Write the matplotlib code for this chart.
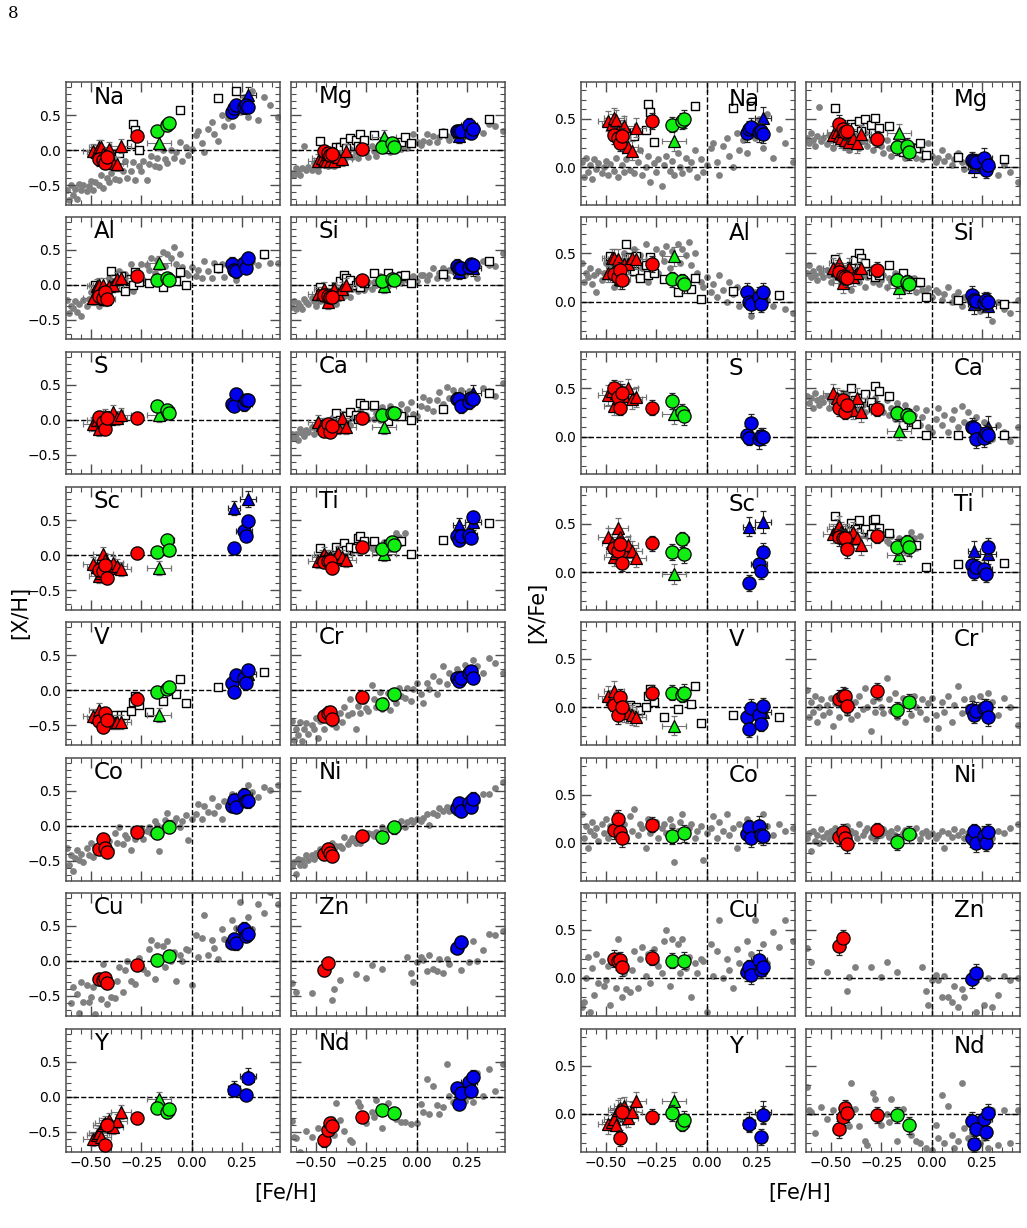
import numpy as np
import matplotlib
matplotlib.use("Agg")
import matplotlib.pyplot as plt
from matplotlib.ticker import MultipleLocator, AutoMinorLocator

nan = np.nan

ELEMENTS = ["Na", "Mg", "Al", "Si", "S", "Ca", "Sc", "Ti",
            "V", "Cr", "Co", "Ni", "Cu", "Zn", "Y", "Nd"]

# [Fe/H] of the field comparison stars (grey dots)
FIELD_FEH = [
    -0.62, -0.61, -0.60, -0.59, -0.58, -0.57, -0.56, -0.55, -0.54, -0.52,
    -0.51, -0.50, -0.49, -0.48, -0.46, -0.45, -0.44, -0.42, -0.41, -0.40,
    -0.38, -0.37, -0.36, -0.34, -0.33, -0.32, -0.30, -0.29, -0.28, -0.26,
    -0.25, -0.24, -0.22, -0.21, -0.20, -0.18, -0.17, -0.16, -0.14, -0.13,
    -0.12, -0.10, -0.09, -0.08, -0.06, -0.05, -0.03, -0.02, 0.00, 0.02,
    0.03, 0.05, 0.06, 0.08, 0.10, 0.11, 0.13, 0.15, 0.16, 0.18,
    0.20, 0.22, 0.24, 0.26, 0.28, 0.30, 0.33, 0.36, 0.39, 0.43]

# [X/Fe] of the field stars, one list per element
field_na = [
    0.05, -0.10, 0.10, -0.05, 0.02, -0.12, 0.08, -0.02, 0.04, -0.06,
    0.00, 0.06, -0.08, 0.03, -0.04, 0.10, -0.10, 0.02, -0.05, 0.08,
    -0.03, 0.15, -0.06, 0.05, 0.18, -0.08, 0.00, 0.12, -0.15, 0.04,
    -0.05, 0.08, -0.20, 0.02, 0.12, -0.04, 0.06, -0.08, 0.15, 0.00,
    -0.06, 0.10, -0.02, 0.05, 0.18, -0.10, 0.08, -0.05, 0.02, 0.20,
    0.25, 0.05, -0.08, 0.22, 0.30, 0.12, 0.00, 0.35, 0.18, 0.28,
    0.15, 0.45, 0.30, 0.50, 0.20, 0.55, 0.10, 0.40, 0.25, 0.05]
field_mg = [
    0.30, 0.25, 0.35, 0.28, 0.22, 0.32, 0.62, 0.27, 0.30, 0.24,
    0.33, 0.28, 0.20, 0.35, 0.26, 0.30, 0.22, 0.34, 0.18, 0.28,
    0.25, 0.30, 0.20, 0.27, 0.35, 0.22, 0.28, 0.18, 0.25, 0.30,
    0.22, 0.15, 0.28, 0.20, 0.12, 0.24, 0.30, 0.18, 0.25, 0.10,
    0.20, 0.15, 0.22, 0.10, 0.18, 0.08, 0.14, 0.25, 0.12, 0.05,
    0.10, 0.18, 0.06, 0.12, 0.02, 0.08, 0.15, 0.05, -0.02, 0.04,
    0.00, 0.06, -0.03, 0.03, -0.05, 0.00, -0.08, 0.02, -0.05, -0.15]
field_al = [
    0.40, 0.20, 0.30, 0.25, 0.35, 0.18, 0.28, 0.10, 0.32, 0.22,
    0.30, 0.40, 0.25, 0.35, 0.15, 0.45, 0.28, 0.38, 0.50, 0.20,
    0.42, 0.30, 0.55, 0.25, 0.48, 0.35, 0.60, 0.20, 0.45, 0.38,
    0.55, 0.30, 0.50, 0.42, 0.58, 0.35, 0.52, 0.45, 0.60, 0.40,
    0.55, 0.48, 0.62, 0.38, 0.50, 0.30, 0.20, 0.15, 0.25, 0.10,
    0.18, 0.05, 0.28, 0.12, 0.00, 0.20, 0.08, 0.15, -0.05, 0.10,
    0.05, -0.15, 0.10, -0.02, 0.08, 0.02, -0.05, 0.05, -0.08, -0.12]
field_si = [
    0.30, 0.38, 0.25, 0.32, 0.28, 0.22, 0.35, 0.30, 0.26, 0.33,
    0.28, 0.20, 0.35, 0.25, 0.30, 0.18, 0.27, 0.22, 0.32, 0.12,
    0.25, 0.30, 0.20, 0.28, 0.15, 0.25, 0.32, 0.20, 0.26, 0.18,
    0.22, 0.28, 0.15, 0.24, 0.20, 0.30, 0.18, 0.25, 0.12, 0.22,
    0.20, 0.15, 0.24, 0.10, 0.18, 0.12, 0.08, 0.14, 0.05, 0.12,
    0.10, 0.02, 0.08, 0.15, 0.00, 0.06, 0.10, -0.05, 0.05, 0.02,
    -0.02, 0.05, -0.10, 0.02, -0.05, -0.20, 0.00, -0.08, -0.12, 0.02]
field_ca = [
    0.42, 0.35, 0.40, 0.30, 0.45, 0.38, 0.33, 0.40, 0.36, 0.42,
    0.30, 0.38, 0.42, 0.35, 0.28, 0.40, 0.32, 0.45, 0.36, 0.30,
    0.38, 0.28, 0.42, 0.33, 0.25, 0.45, 0.30, 0.36, 0.40, 0.28,
    0.32, 0.25, 0.38, 0.22, 0.30, 0.18, 0.35, 0.28, 0.20, 0.33,
    0.25, 0.15, 0.22, 0.30, 0.12, 0.20, 0.28, 0.10, 0.05, 0.18,
    0.30, 0.12, 0.22, 0.05, 0.18, 0.28, 0.10, 0.32, 0.15, 0.25,
    0.08, 0.20, 0.02, 0.15, 0.10, -0.02, 0.12, 0.05, -0.05, 0.10]
field_ti = [
    nan, nan, nan, nan, nan, nan, nan, nan, nan, nan,
    nan, nan, nan, nan, nan, nan, nan, nan, nan, nan,
    nan, 0.42, nan, 0.40, 0.45, 0.38, 0.42, 0.35, 0.40, 0.38,
    0.35, 0.40, 0.32, 0.30, 0.38, 0.28, 0.25, 0.35, 0.30, 0.22,
    0.30, 0.42, 0.35, 0.25, 0.38, nan, nan, nan, nan, nan,
    nan, nan, nan, nan, nan, nan, nan, nan, nan, nan,
    nan, nan, nan, nan, nan, nan, nan, nan, nan, nan]
field_cr = [
    0.18, -0.10, 0.05, -0.05, 0.12, -0.15, 0.00, 0.08, -0.08, 0.02,
    -0.05, 0.10, -0.20, 0.04, -0.10, 0.15, 0.00, -0.06, 0.08, -0.12,
    0.05, -0.08, 0.12, -0.02, 0.20, 0.00, -0.25, 0.06, -0.05, 0.10,
    0.00, -0.06, 0.30, 0.08, -0.04, 0.15, -0.10, 0.02, 0.10, -0.15,
    0.05, -0.08, 0.12, 0.00, -0.05, 0.08, -0.12, 0.04, 0.10, -0.08,
    -0.22, 0.05, -0.05, 0.12, -0.15, 0.02, 0.22, -0.06, 0.08, 0.00,
    0.10, -0.05, 0.12, -0.02, 0.15, 0.05, -0.08, 0.10, 0.00, -0.18]
field_co = [
    0.30, 0.05, 0.18, -0.05, 0.12, 0.22, 0.08, 0.15, 0.02, 0.20,
    0.10, 0.25, 0.05, 0.18, 0.12, 0.30, 0.08, 0.15, 0.20, 0.05,
    0.28, 0.12, 0.35, 0.08, 0.20, 0.15, -0.05, 0.25, 0.10, 0.18,
    0.22, 0.05, 0.15, 0.20, 0.10, 0.25, 0.18, -0.20, 0.12, 0.22,
    0.30, 0.08, 0.15, 0.20, 0.05, 0.12, 0.18, -0.18, 0.10, 0.15,
    0.28, 0.05, 0.22, 0.12, 0.30, 0.08, 0.15, -0.05, 0.20, 0.10,
    0.25, 0.12, 0.05, 0.22, 0.30, 0.18, 0.08, 0.20, 0.12, 0.15]
field_ni = [
    0.05, 0.10, -0.08, 0.12, 0.02, 0.08, 0.00, 0.14, 0.06, 0.10,
    0.04, 0.12, 0.08, 0.15, 0.06, 0.10, 0.02, 0.18, 0.08, 0.12,
    0.10, 0.05, 0.20, 0.08, 0.12, 0.15, 0.06, 0.10, 0.04, 0.12,
    0.08, 0.14, 0.10, 0.06, 0.12, 0.08, 0.15, 0.05, 0.10, 0.13,
    0.06, 0.12, 0.08, 0.15, 0.04, 0.10, 0.12, 0.07, 0.10, 0.05,
    0.08, 0.12, -0.05, 0.10, 0.06, 0.14, 0.08, 0.12, 0.05, 0.10,
    0.12, 0.06, 0.10, 0.14, 0.08, 0.05, 0.12, 0.10, 0.15, 0.20]
field_cu = [
    -0.30, -0.25, 0.00, 0.22, -0.35, 0.10, -0.18, 0.25, -0.05, 0.18,
    -0.08, -0.02, 0.12, -0.28, 0.15, -0.10, 0.40, -0.20, 0.05, -0.12,
    -0.15, 0.08, 0.28, -0.10, 0.20, 0.32, 0.02, 0.25, -0.05, 0.30,
    0.18, 0.12, 0.05, 0.38, 0.50, -0.08, 0.40, 0.15, 0.35, 0.05,
    0.40, 0.10, 0.22, -0.20, 0.15, 0.05, 0.20, 0.18, -0.35, 0.35,
    0.02, 0.28, 0.60, 0.00, 0.20, 0.08, -0.10, 0.30, 0.15, 0.05,
    0.38, 0.25, 0.60, 0.12, 0.35, 0.15, 0.48, 0.32, 0.60, 0.38]
field_zn = [
    0.31, nan, 0.16, nan, nan, nan, nan, nan, nan, 0.06,
    nan, nan, nan, nan, nan, nan, nan, -0.14, 0.01, nan,
    0.11, nan, nan, nan, nan, nan, 0.11, nan, nan, nan,
    0.01, nan, 0.16, nan, nan, nan, 0.06, nan, nan, nan,
    nan, nan, nan, nan, nan, 0.11, -0.14, -0.28, -0.02, 0.03,
    -0.02, -0.20, 0.02, -0.20, -0.25, -0.08, -0.30, -0.12, -0.20, -0.02,
    -0.05, -0.35, 0.02, -0.28, 0.00, -0.30, -0.18, 0.02, -0.02, 0.00]
field_nd = [
    0.28, 0.04, 0.02, nan, -0.20, nan, nan, 0.07, nan, -0.05,
    nan, nan, 0.04, nan, nan, nan, nan, 0.10, -0.13, 0.32,
    0.05, nan, -0.13, nan, -0.28, -0.32, nan, 0.22, 0.15, -0.05,
    -0.12, nan, 0.00, -0.08, 0.15, nan, -0.28, nan, 0.05, nan,
    nan, -0.22, nan, -0.28, -0.30, nan, -0.35, nan, -0.37, -0.12,
    -0.25, 0.20, -0.30, 0.08, -0.22, -0.35, -0.28, 0.32, -0.15, -0.25,
    -0.20, -0.10, -0.30, -0.25, -0.35, 0.04, -0.32, 0.04, -0.30, 0.04]

# [Fe/H] of the cluster stars, by group
RC_FEH = [-0.46, -0.44, -0.43, -0.42, -0.27]          # red circles
RT_FEH = [-0.49, -0.47, -0.46, -0.45, -0.44, -0.43, -0.41, -0.39, -0.37, -0.35]
GC_FEH = [-0.17, -0.12, -0.11]                        # green circles
GT_FEH = [-0.16]                                      # green triangle
BC_FEH = [0.20, 0.21, 0.22, 0.26, 0.27, 0.28]         # blue circles
BT_FEH = [0.21, 0.28]                                 # blue triangles
OS_FEH = [-0.48, -0.40, -0.38, -0.36, -0.35, -0.33, -0.30, -0.29, -0.28,
          -0.26, -0.21, -0.14, -0.08, -0.06, -0.03, 0.13, 0.22, 0.36]  # open squares

# errors (xerr, yerr)
RC_ERR = ([0.03, 0, 0, 0.03, 0], [0.09, 0.09, 0.08, 0.09, 0.08])
RT_ERR = ([0.05] * 10, [0.10] * 10)
GC_ERR = ([0, 0.03, 0], [0.08, 0.08, 0.09])
GT_ERR = ([0.06], [0.10])
BC_ERR = ([0.03, 0, 0, 0.04, 0, 0], [0.09, 0.08, 0.09, 0.10, 0.08, 0.09])
BT_ERR = ([0.03, 0.04], [0.10, 0.11])

# [X/Fe] of cluster stars, per element (nan = not measured)
na_rc = [0.33, 0.30, 0.25, 0.32, 0.48]
na_rt = [0.48, 0.45, 0.51, 0.49, 0.38, 0.30, 0.43, 0.21, 0.17, 0.41]
na_gc = [0.44, 0.48, 0.50]
na_gt = [0.27]
na_bc = [0.35, 0.40, 0.42, 0.36, 0.38, 0.34]
na_bt = [nan, 0.51]
na_os = [nan, 0.35, nan, 0.32, nan, nan, 0.39, 0.66, 0.57, 0.26, nan, nan, nan, 0.63, nan, 0.61, 0.63, nan]

mg_rc = [0.45, 0.40, 0.36, 0.37, 0.29]
mg_rt = [0.33, 0.36, 0.32, 0.30, 0.38, 0.28, 0.26, 0.30, 0.25, 0.34]
mg_gc = [0.21, 0.22, 0.16]
mg_gt = [0.35]
mg_bc = [0.07, 0.06, 0.05, 0.10, -0.03, 0.02]
mg_bt = [0.00, nan]
mg_os = [0.61, 0.45, 0.42, 0.48, 0.38, 0.50, 0.44, 0.35, 0.51, 0.41, 0.43, 0.16, 0.20, 0.25, 0.13, 0.11, nan, 0.09]

al_rc = [0.29, 0.25, 0.33, 0.22, 0.39]
al_rt = [0.30, 0.45, 0.45, 0.37, 0.44, 0.23, 0.39, 0.39, 0.45, 0.44]
al_gc = [0.23, 0.21, 0.18]
al_gt = [0.47]
al_bc = [0.10, 0.00, -0.03, 0.05, -0.03, 0.10]
al_os = [0.47, 0.60, 0.46, 0.32, 0.47, 0.24, 0.38, 0.28, 0.46, 0.30, 0.23, 0.10, 0.13, 0.24, 0.03, 0.11, nan, 0.07]

si_rc = [0.31, 0.27, 0.25, 0.24, 0.33]
si_rt = [0.35, 0.33, 0.40, 0.30, 0.19, 0.28, 0.35, 0.26, 0.30, 0.35]
si_gc = [0.22, 0.20, 0.18]
si_gt = [0.14]
si_bc = [0.07, 0.02, 0.01, -0.01, 0.02, 0.00]
si_bt = [-0.03, -0.05]
si_os = [0.44, 0.37, 0.43, 0.50, 0.45, 0.40, 0.29, 0.32, 0.25, 0.28, 0.38, 0.30, 0.20, 0.20, 0.05, 0.02, nan, -0.03]

s_rc = [0.50, 0.41, 0.30, 0.45, 0.30]
s_rt = [0.43, 0.47, 0.32, 0.45, 0.40, 0.48, 0.42, 0.50, 0.39, 0.41]
s_gc = [0.37, 0.26, 0.21]
s_gt = [0.23]
s_bc = [0.02, -0.01, 0.14, -0.03, 0.01, 0.00]

ca_rc = [0.30, 0.38, 0.26, 0.33, 0.29]
ca_rt = [0.45, 0.40, 0.35, 0.38, 0.32, 0.36, 0.30, 0.28, 0.40, 0.25]
ca_gc = [0.24, 0.22, 0.20]
ca_gt = [0.06]
ca_bc = [0.10, 0.09, -0.03, -0.01, 0.04, 0.02]
ca_bt = [nan, 0.10]
ca_os = [nan, 0.50, 0.38, 0.35, 0.40, 0.44, 0.36, 0.30, 0.52, 0.47, 0.42, 0.12, 0.13, nan, 0.02, 0.02, nan, 0.02]

sc_rc = [0.25, 0.22, 0.29, 0.10, 0.30]
sc_rt = [0.36, 0.30, 0.16, 0.20, 0.46, 0.36, 0.22, 0.28, 0.22, 0.15]
sc_gc = [0.21, 0.34, 0.19]
sc_gt = [-0.02]
sc_bc = [nan, -0.11, nan, 0.09, 0.01, 0.21]
sc_bt = [0.47, 0.52]

ti_rc = [0.36, 0.35, 0.35, 0.24, 0.38]
ti_rt = [0.40, 0.45, 0.48, 0.42, 0.38, 0.40, 0.36, 0.42, 0.35, 0.28]
ti_gc = [0.26, 0.31, 0.26]
ti_gt = [0.18]
ti_bc = [0.07, 0.00, 0.05, 0.03, -0.02, 0.26]
ti_bt = [0.22, 0.19]
ti_os = [0.58, 0.51, 0.45, 0.54, 0.42, 0.45, 0.40, 0.54, 0.55, 0.46, 0.41, 0.30, 0.28, nan, 0.05, 0.09, nan, 0.10]

v_rc = [0.02, -0.08, 0.11, 0.00, 0.15]
v_rt = [0.12, 0.08, 0.17, 0.05, 0.02, -0.02, -0.05, -0.06, -0.08, -0.10]
v_gc = [0.15, 0.13, 0.15]
v_gt = [-0.19]
v_bc = [-0.10, -0.23, -0.01, -0.08, -0.17, 0.01]
v_bt = [nan, -0.05]
v_os = [0.08, -0.05, 0.02, -0.08, 0.00, -0.03, 0.00, 0.12, 0.19, 0.05, -0.10, -0.02, 0.03, 0.22, -0.16, -0.08, nan, -0.10]

cr_rc = [0.09, 0.12, 0.12, 0.01, 0.17]
cr_gc = [-0.03, nan, 0.05]
cr_bc = [-0.03, -0.08, -0.04, -0.01, 0.00, -0.10]

co_rc = [0.13, 0.25, 0.11, 0.05, 0.19]
co_gc = [0.07, nan, 0.10]
co_bc = [0.09, 0.16, 0.05, 0.18, 0.08, 0.07]

ni_rc = [0.06, 0.11, 0.05, -0.01, 0.13]
ni_gc = [0.01, nan, 0.09]
ni_bc = [0.05, 0.12, 0.00, 0.07, 0.00, 0.11]

cu_rc = [0.20, 0.17, 0.19, 0.11, 0.21]
cu_gc = [0.18, nan, 0.18]
cu_bc = [0.06, 0.11, 0.03, 0.19, 0.08, 0.11]

zn_rc = [0.33, 0.41, nan, nan, nan]
zn_bc = [-0.01, nan, 0.05, nan, nan, nan]

y_rc = [nan, nan, -0.25, 0.02, -0.03]
y_rt = [-0.11, -0.08, -0.05, -0.12, 0.04, 0.06, 0.08, -0.04, 0.02, 0.13]
y_gc = [0.01, -0.10, -0.06]
y_gt = [0.13]
y_bc = [nan, -0.11, nan, nan, -0.24, -0.01]
y_bt = [-0.08, 0.02]

nd_rc = [-0.16, -0.03, 0.06, 0.01, -0.01]
nd_gc = [-0.01, nan, -0.12]
nd_bc = [-0.07, -0.31, -0.16, -0.05, -0.19, 0.01]

field = {"Na": field_na, "Mg": field_mg, "Al": field_al, "Si": field_si,
         "Ca": field_ca, "Ti": field_ti, "Cr": field_cr, "Co": field_co,
         "Ni": field_ni, "Cu": field_cu, "Zn": field_zn, "Nd": field_nd}

cluster = {
    "Na": dict(os=na_os, rt=na_rt, rc=na_rc, gt=na_gt, gc=na_gc, bt=na_bt, bc=na_bc),
    "Mg": dict(os=mg_os, rt=mg_rt, rc=mg_rc, gt=mg_gt, gc=mg_gc, bt=mg_bt, bc=mg_bc),
    "Al": dict(os=al_os, rt=al_rt, rc=al_rc, gt=al_gt, gc=al_gc, bc=al_bc),
    "Si": dict(os=si_os, rt=si_rt, rc=si_rc, gt=si_gt, gc=si_gc, bt=si_bt, bc=si_bc),
    "S": dict(rt=s_rt, rc=s_rc, gt=s_gt, gc=s_gc, bc=s_bc),
    "Ca": dict(os=ca_os, rt=ca_rt, rc=ca_rc, gt=ca_gt, gc=ca_gc, bt=ca_bt, bc=ca_bc),
    "Sc": dict(rt=sc_rt, rc=sc_rc, gt=sc_gt, gc=sc_gc, bt=sc_bt, bc=sc_bc),
    "Ti": dict(os=ti_os, rt=ti_rt, rc=ti_rc, gt=ti_gt, gc=ti_gc, bt=ti_bt, bc=ti_bc),
    "V": dict(os=v_os, rt=v_rt, rc=v_rc, gt=v_gt, gc=v_gc, bt=v_bt, bc=v_bc),
    "Cr": dict(rc=cr_rc, gc=cr_gc, bc=cr_bc),
    "Co": dict(rc=co_rc, gc=co_gc, bc=co_bc),
    "Ni": dict(rc=ni_rc, gc=ni_gc, bc=ni_bc),
    "Cu": dict(rc=cu_rc, gc=cu_gc, bc=cu_bc),
    "Zn": dict(rc=zn_rc, bc=zn_bc),
    "Y": dict(rt=y_rt, rc=y_rc, gt=y_gt, gc=y_gc, bt=y_bt, bc=y_bc),
    "Nd": dict(rc=nd_rc, gc=nd_gc, bc=nd_bc),
}

groups = {
    "rt": (RT_FEH, RT_ERR, "^", "#ff0000", "0.45"),
    "rc": (RC_FEH, RC_ERR, "o", "#ff0000", "0.15"),
    "gt": (GT_FEH, GT_ERR, "^", "#11ee11", "0.45"),
    "gc": (GC_FEH, GC_ERR, "o", "#11ee11", "0.15"),
    "bt": (BT_FEH, BT_ERR, "^", "#0000ee", "0.15"),
    "bc": (BC_FEH, BC_ERR, "o", "#0000ee", "0.15"),
}

for el, vals in field.items():
    assert len(vals) == len(FIELD_FEH), el


def draw_panel(ax, el, vs_h):
    feh = np.array(FIELD_FEH)
    if el in field:
        xfe = np.array(field[el])
        y = xfe + feh if vs_h else xfe
        ax.scatter(feh, y, s=24, color="#808080", lw=0, zorder=1)
    data = cluster[el]
    if "os" in data:
        f = np.array(OS_FEH)
        xfe = np.array(data["os"])
        y = xfe + f if vs_h else xfe
        ax.scatter(f, y, s=34, marker="s", facecolor="white",
                   edgecolor="black", lw=1.0, zorder=3)
    for key in ["rt", "rc", "gt", "gc", "bt", "bc"]:
        if key not in data:
            continue
        f, (xe, ye), mk, col, ecol = groups[key]
        f = np.array(f)
        xfe = np.array(data[key])
        y = xfe + f if vs_h else xfe
        ok = ~np.isnan(y)
        ms = 9 if mk == "^" else 9.5
        ax.errorbar(f[ok], y[ok], yerr=np.array(ye)[ok], xerr=np.array(xe)[ok],
                    fmt=mk, ms=ms, mfc=col, mec="black", mew=0.9,
                    ecolor=ecol, elinewidth=0.8, capsize=2, capthick=0.8,
                    zorder=4 if mk == "^" else 5)


W, H = 1027, 1228
fig = plt.figure(figsize=(W / 100, H / 100), dpi=100)

col_left = [66, 291, 581, 806]
row_top = [82.3, 216.7, 351.7, 487.3, 622.3, 758, 893, 1029]
aw, ah = 214, 122.5

for block in range(2):
    vs_h = block == 0
    for i, el in enumerate(ELEMENTS):
        r, c = divmod(i, 2)
        x0 = col_left[block * 2 + c]
        ax = fig.add_axes([x0 / W, 1 - (row_top[r] + ah) / H, aw / W, ah / H])
        draw_panel(ax, el, vs_h)
        ax.axhline(0, color="black", ls="--", lw=1, zorder=2)
        ax.axvline(0, color="black", ls="--", lw=1, zorder=2)
        ax.set_xlim(-0.625, 0.44)
        if vs_h:
            ax.set_ylim(-0.78, 0.97)
            ax.text(0.13, 0.88, el, transform=ax.transAxes, fontsize=16.5,
                    ha="left", va="center")
        else:
            ax.set_ylim(-0.39, 0.88)
            ax.text(0.69, 0.86, el, transform=ax.transAxes, fontsize=16.5,
                    ha="left", va="center")
        ax.xaxis.set_major_locator(MultipleLocator(0.25))
        ax.xaxis.set_minor_locator(AutoMinorLocator())
        ax.yaxis.set_major_locator(MultipleLocator(0.5))
        ax.yaxis.set_minor_locator(AutoMinorLocator())
        ax.tick_params(which="both", direction="in", top=True, right=True,
                       labelsize=10, color="0.3")
        ax.tick_params(which="major", length=7, width=1)
        ax.tick_params(which="minor", length=3.5, width=0.8)
        for sp in ax.spines.values():
            sp.set_color("0.3")
            sp.set_linewidth(1.1)
        if r < 7:
            ax.tick_params(labelbottom=False)
        if c == 1:
            ax.tick_params(labelleft=False)

fig.text(20 / W, 1 - 612 / H, "[X/H]", rotation=90, fontsize=15,
         ha="center", va="center")
fig.text(537 / W, 1 - 612 / H, "[X/Fe]", rotation=90, fontsize=15,
         ha="center", va="center")
fig.text(285.5 / W, 1 - 1193 / H, "[Fe/H]", fontsize=15, ha="center", va="center")
fig.text(800 / W, 1 - 1193 / H, "[Fe/H]", fontsize=15, ha="center", va="center")
fig.text(13 / W, 1 - 14 / H, "8", fontsize=12, family="DejaVu Serif",
         ha="center", va="center")

fig.savefig("out.png", dpi=100)
